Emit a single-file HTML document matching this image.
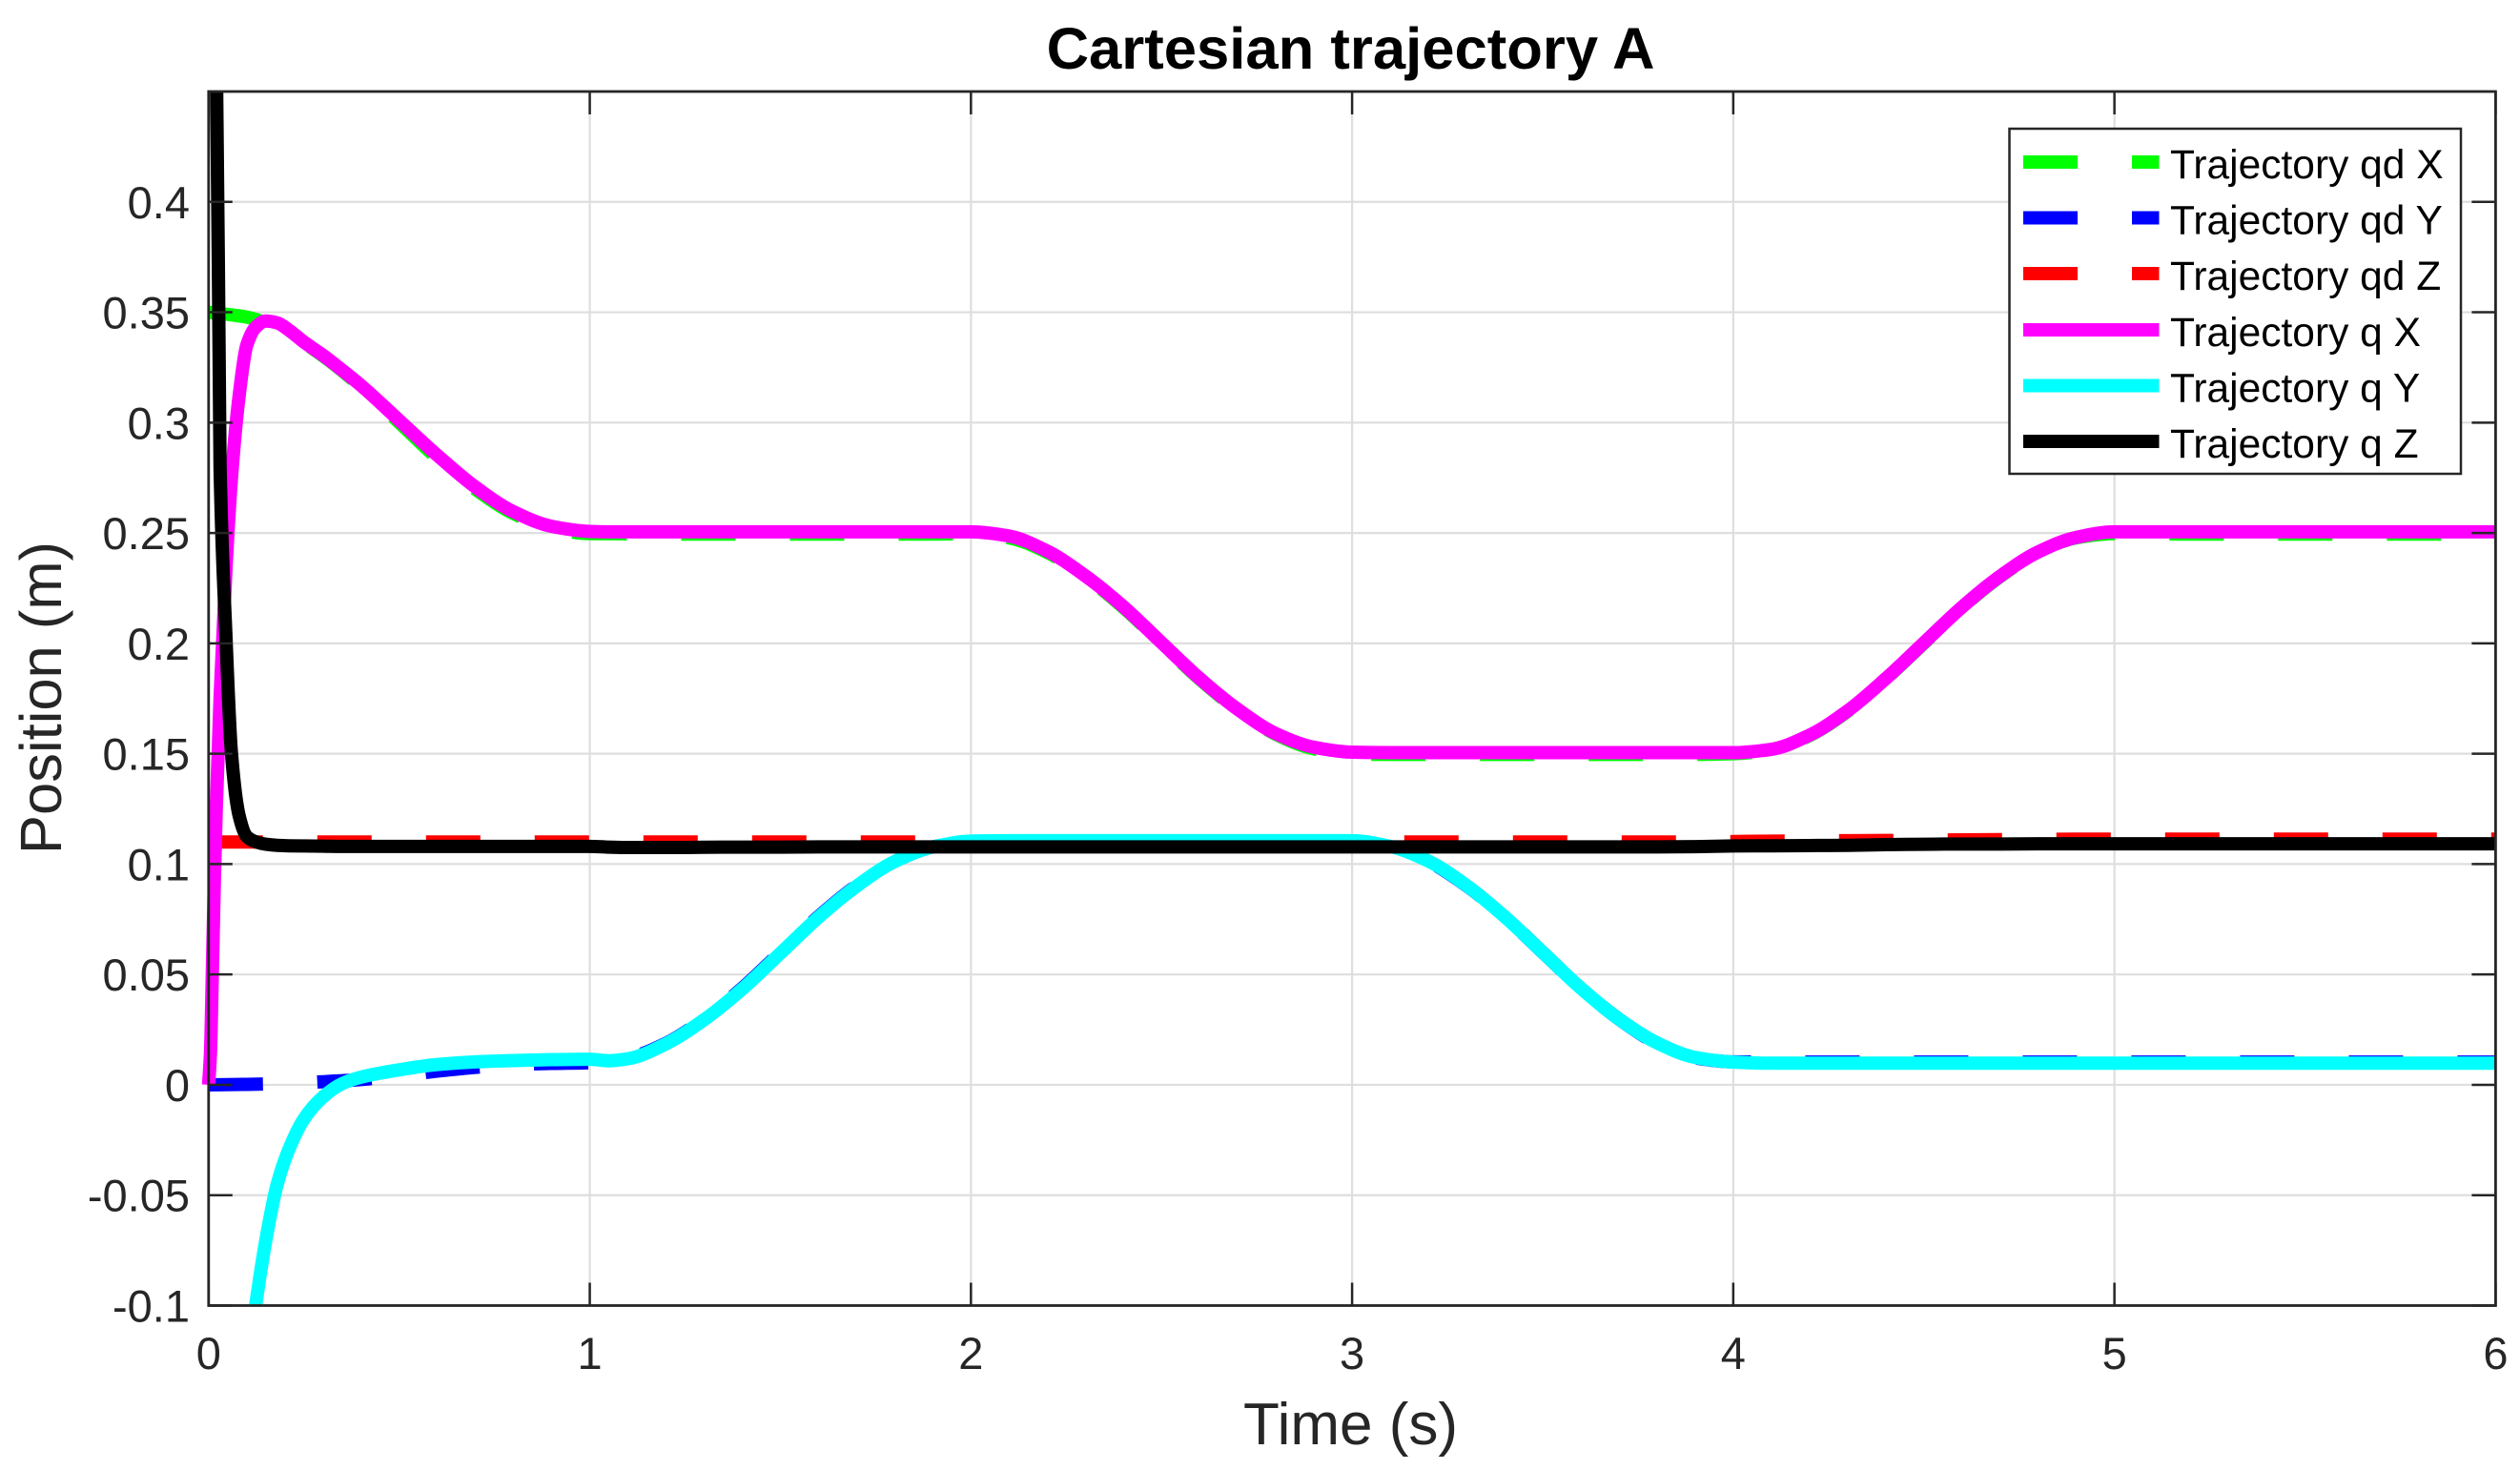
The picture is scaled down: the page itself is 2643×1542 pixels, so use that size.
<!DOCTYPE html>
<html lang="en">
<head>
<meta charset="utf-8">
<title>Cartesian trajectory A</title>
<style>
html,body{margin:0;padding:0;background:#fff;width:2643px;height:1542px;overflow:hidden;}
svg{display:block;position:absolute;left:0;top:0;overflow:hidden;}
text{font-family:"Liberation Sans",Arial,sans-serif;}
</style>
</head>
<body>
<svg id="chart" xmlns="http://www.w3.org/2000/svg" width="2643" height="1542" viewBox="0 0 2643 1542">
  <defs>
    <clipPath id="plot-clip"><rect x="205" y="96" width="2412.4" height="1273.5"/></clipPath>
  </defs>
  <rect x="0" y="0" width="2643" height="1542" fill="#fff"/>
  <g id="grid"></g>
  <g id="series" clip-path="url(#plot-clip)" fill="none" stroke-linejoin="round"></g>
  <g id="axes"></g>
  <text x="1416.5" y="72" font-size="61.6" font-weight="bold" text-anchor="middle" fill="#000">Cartesian trajectory A</text>
  <text x="1416.5" y="1515" font-size="62" text-anchor="middle" fill="#262626">Time (s)</text>
  <text transform="translate(64,732) rotate(-90)" font-size="61.5" text-anchor="middle" fill="#262626">Position (m)</text>
  <g>
    <rect x="2107.5" y="135" width="473.5" height="362" fill="#fff" stroke="#262626" stroke-width="2.5"/>
    <g>
      <line x1="2122" x2="2264.5" y1="170" y2="170" stroke="#00ff00" stroke-width="14" stroke-dasharray="57 57"/>
      <text x="2276" y="187" font-size="42.5" fill="#000">Trajectory qd X</text>
    </g>
    <g>
      <line x1="2122" x2="2264.5" y1="228.5" y2="228.5" stroke="#0000ff" stroke-width="14" stroke-dasharray="57 57"/>
      <text x="2276" y="245.5" font-size="42.5" fill="#000">Trajectory qd Y</text>
    </g>
    <g>
      <line x1="2122" x2="2264.5" y1="287" y2="287" stroke="#ff0000" stroke-width="14" stroke-dasharray="57 57"/>
      <text x="2276" y="304" font-size="42.5" fill="#000">Trajectory qd Z</text>
    </g>
    <g>
      <line x1="2122" x2="2264.5" y1="346" y2="346" stroke="#ff00ff" stroke-width="14"/>
      <text x="2276" y="363" font-size="42.5" fill="#000">Trajectory q X</text>
    </g>
    <g>
      <line x1="2122" x2="2264.5" y1="404.5" y2="404.5" stroke="#00ffff" stroke-width="14"/>
      <text x="2276" y="421.5" font-size="42.5" fill="#000">Trajectory q Y</text>
    </g>
    <g>
      <line x1="2122" x2="2264.5" y1="463" y2="463" stroke="#000" stroke-width="14"/>
      <text x="2276" y="480" font-size="42.5" fill="#000">Trajectory q Z</text>
    </g>
  </g>
</svg>
<script>
var xTicks = [0,1,2,3,4,5,6];
var xTickLabels = ["0","1","2","3","4","5","6"];
var yTicks = [-0.1,-0.05,0,0.05,0.1,0.15,0.2,0.25,0.3,0.35,0.4];
var yTickLabels = ["-0.1","-0.05","0","0.05","0.1","0.15","0.2","0.25","0.3","0.35","0.4"];
var xLimits = [0,6];
var yLimits = [-0.1,0.45];

var qdTime = [0,0.1,0.2,0.3,0.4,0.5,0.6,0.7,0.8,0.9,1,1.1,1.2,1.3,1.4,1.5,1.6,1.7,1.8,1.9,2,2.1,2.2,2.3,2.4,2.5,2.6,2.7,2.8,2.9,3,3.1,3.2,3.3,3.4,3.5,3.6,3.7,3.8,3.9,4,4.1,4.2,4.3,4.4,4.5,4.6,4.7,4.8,4.9,5,5.1,5.2,5.3,5.4,5.5,5.6,5.7,5.8,5.9,6];
var qdX = [0.35,0.3478,0.3412,0.3302,0.3162,0.3,0.2838,0.2698,0.2588,0.2522,0.2497,0.2496,0.2495,0.2495,0.2495,0.2495,0.2495,0.2495,0.2495,0.2495,0.2497,0.2478,0.2412,0.2302,0.2162,0.2,0.1838,0.1698,0.1588,0.1522,0.1498,0.1497,0.1497,0.1497,0.1497,0.1497,0.1497,0.1497,0.1497,0.1497,0.15,0.1518,0.1582,0.1692,0.1838,0.2,0.2162,0.2302,0.2412,0.2478,0.2497,0.2496,0.2495,0.2495,0.2495,0.2495,0.2495,0.2495,0.2495,0.2495,0.2495];
var qdY = [0,0.0002,0.0006,0.0014,0.0024,0.0042,0.0062,0.0079,0.0091,0.0097,0.01,0.0122,0.0188,0.0298,0.0438,0.06,0.0762,0.0902,0.1012,0.1078,0.11,0.1102,0.1102,0.1102,0.1102,0.1102,0.1102,0.1102,0.1102,0.1102,0.11,0.1078,0.1012,0.0902,0.0762,0.06,0.0438,0.0298,0.0188,0.0122,0.0104,0.0103,0.0103,0.0103,0.0103,0.0103,0.0103,0.0103,0.0103,0.0103,0.0103,0.0103,0.0103,0.0103,0.0103,0.0103,0.0103,0.0103,0.0103,0.0103,0.0103];
var qdZ = [0.11,0.11,0.11,0.11,0.11,0.11,0.11,0.11,0.11,0.11,0.11,0.11,0.11,0.11,0.11,0.11,0.11,0.11,0.11,0.11,0.11,0.11,0.11,0.11,0.11,0.11,0.11,0.11,0.11,0.11,0.11,0.11,0.11,0.11,0.11,0.11,0.11,0.11,0.11,0.11,0.1102,0.1104,0.1105,0.1106,0.1107,0.1108,0.111,0.1111,0.1112,0.1113,0.1113,0.1113,0.1113,0.1113,0.1113,0.1113,0.1113,0.1113,0.1113,0.1113,0.1113];

var qTime = [0,0.005,0.01,0.015,0.02,0.03,0.045,0.06,0.08,0.1,0.125,0.15,0.18,0.21,0.25,0.3,0.35,0.4,0.5,0.6,0.7,0.8,0.9,1,1.05,1.1,1.2,1.3,1.4,1.5,1.6,1.7,1.8,1.9,2,2.1,2.2,2.3,2.4,2.5,2.6,2.7,2.8,2.9,3,3.1,3.2,3.3,3.4,3.5,3.6,3.7,3.8,3.9,4,4.1,4.2,4.3,4.4,4.5,4.6,4.7,4.8,4.9,5,5.5,6];
var qX = [0,0.015,0.053,0.092,0.125,0.175,0.232,0.275,0.312,0.335,0.3435,0.346,0.3452,0.342,0.3365,0.3305,0.3238,0.3168,0.301,0.2852,0.2708,0.2596,0.253,0.2507,0.2505,0.2505,0.2505,0.2505,0.2505,0.2505,0.2505,0.2505,0.2505,0.2505,0.2505,0.2486,0.2418,0.2306,0.2166,0.2003,0.1841,0.1701,0.1591,0.1529,0.1507,0.1505,0.1505,0.1505,0.1505,0.1505,0.1505,0.1505,0.1505,0.1505,0.1505,0.152,0.1584,0.1694,0.184,0.2002,0.2164,0.2304,0.2414,0.248,0.2505,0.2505,0.2505];
var qY = [-0.17,-0.17,-0.17,-0.17,-0.17,-0.17,-0.17,-0.17,-0.17,-0.13,-0.098,-0.0705,-0.045,-0.0295,-0.0155,-0.0055,0.0005,0.0035,0.0068,0.0092,0.0104,0.011,0.0114,0.0116,0.0109,0.0118,0.0186,0.0295,0.0434,0.0596,0.0759,0.09,0.1012,0.1078,0.1104,0.1106,0.1106,0.1106,0.1106,0.1106,0.1106,0.1106,0.1106,0.1106,0.1106,0.108,0.1014,0.0903,0.0762,0.06,0.0438,0.0298,0.019,0.0124,0.0103,0.0098,0.0098,0.0098,0.0098,0.0098,0.0098,0.0098,0.0098,0.0098,0.0098,0.0098,0.0098];
var qZ = [0.47,0.47,0.47,0.47,0.47,0.28,0.205,0.15,0.122,0.1125,0.11,0.109,0.1085,0.1083,0.1082,0.1081,0.108,0.108,0.108,0.108,0.108,0.108,0.108,0.108,0.1077,0.1075,0.1075,0.1076,0.1077,0.1077,0.1078,0.1078,0.1078,0.1078,0.1078,0.1078,0.1078,0.1078,0.1078,0.1078,0.1078,0.1078,0.1078,0.1078,0.1078,0.1078,0.1078,0.1078,0.1078,0.1078,0.1078,0.1078,0.1078,0.1079,0.1082,0.1083,0.1084,0.1085,0.1088,0.109,0.1091,0.1091,0.1092,0.1092,0.1092,0.1092,0.1092];

var NS = "http://www.w3.org/2000/svg";
var plotLeft = 218.8, plotRight = 2617.4, plotTop = 96, plotBottom = 1369.5;

function xScale(v){ return plotLeft + (v - xLimits[0]) / (xLimits[1] - xLimits[0]) * (plotRight - plotLeft); }
function yScale(v){ return plotBottom - (v - yLimits[0]) / (yLimits[1] - yLimits[0]) * (plotBottom - plotTop); }
function node(tag, parent, attrs){
  var el = document.createElementNS(NS, tag);
  for (var k in attrs) el.setAttribute(k, attrs[k]);
  parent.appendChild(el);
  return el;
}
/* Smooth path through the data points using monotone cubic tangents. */
function pathData(ts, vs){
  var n = ts.length, px = [], py = [], slope = [], tan = [], i;
  for (i = 0; i < n; i++){ px.push(xScale(ts[i])); py.push(yScale(vs[i])); }
  for (i = 0; i < n - 1; i++){ slope.push((py[i+1] - py[i]) / (px[i+1] - px[i])); }
  tan[0] = slope[0];
  tan[n-1] = slope[n-2];
  for (i = 1; i < n - 1; i++){
    if (slope[i-1] * slope[i] <= 0) { tan[i] = 0; }
    else {
      var h0 = px[i] - px[i-1], h1 = px[i+1] - px[i];
      var w0 = 2 * h1 + h0, w1 = h1 + 2 * h0;
      tan[i] = (w0 + w1) / (w0 / slope[i-1] + w1 / slope[i]);
    }
  }
  var d = "M" + px[0].toFixed(2) + " " + py[0].toFixed(2);
  for (i = 0; i < n - 1; i++){
    var h = (px[i+1] - px[i]) / 3;
    d += "C" + (px[i] + h).toFixed(2) + " " + (py[i] + tan[i] * h).toFixed(2) + " " +
         (px[i+1] - h).toFixed(2) + " " + (py[i+1] - tan[i+1] * h).toFixed(2) + " " +
         px[i+1].toFixed(2) + " " + py[i+1].toFixed(2);
  }
  return d;
}

var grid = document.getElementById("grid");
var axes = document.getElementById("axes");
var series = document.getElementById("series");

xTicks.forEach(function(t, i){
  var x = xScale(t);
  if (t !== xLimits[0] && t !== xLimits[1]) {
    var g = node("line", grid, {x1:x, x2:x, y1:plotTop, y2:plotBottom, stroke:"#dedede", "stroke-width":2.2});
    
    
  }
  var b = node("line", axes, {x1:x, x2:x, y1:plotBottom, y2:plotBottom-24, stroke:"#262626", "stroke-width":2.5});
  
  
  var u = node("line", axes, {x1:x, x2:x, y1:plotTop, y2:plotTop+24, stroke:"#262626", "stroke-width":2.5});
  
  
  var l = node("text", axes, {x:x, y:1436, "font-size":47, "text-anchor":"middle", fill:"#262626"});
  
  
  l.textContent = xTickLabels[i];
});

yTicks.forEach(function(v, i){
  var y = yScale(v);
  if (v !== yLimits[0]) {
    var g = node("line", grid, {x1:plotLeft, x2:plotRight, y1:y, y2:y, stroke:"#dedede", "stroke-width":2.2});
    
    
  }
  var a = node("line", axes, {x1:plotLeft, x2:plotLeft+25, y1:y, y2:y, stroke:"#262626", "stroke-width":2.5});
  
  
  var c = node("line", axes, {x1:plotRight, x2:plotRight-25, y1:y, y2:y, stroke:"#262626", "stroke-width":2.5});
  
  
  var l = node("text", axes, {x:199, y:y+17, "font-size":47, "text-anchor":"end", fill:"#262626"});
  
  
  l.textContent = yTickLabels[i];
});

var frame = node("rect", axes, {x:plotLeft, y:plotTop, width:plotRight-plotLeft, height:plotBottom-plotTop, fill:"none", stroke:"#262626", "stroke-width":2.8});



var lineQdX = node("path", series, {d:pathData(qdTime, qdX), stroke:"#00ff00", "stroke-width":14, "stroke-dasharray":"57 57"});


var lineQdY = node("path", series, {d:pathData(qdTime, qdY), stroke:"#0000ff", "stroke-width":14, "stroke-dasharray":"57 57"});


var lineQdZ = node("path", series, {d:pathData(qdTime, qdZ), stroke:"#ff0000", "stroke-width":14, "stroke-dasharray":"57 57"});


var lineQX = node("path", series, {d:pathData(qTime, qX), stroke:"#ff00ff", "stroke-width":14});


var lineQY = node("path", series, {d:pathData(qTime, qY), stroke:"#00ffff", "stroke-width":14});


var lineQZ = node("path", series, {d:pathData(qTime, qZ), stroke:"#000000", "stroke-width":14});


</script>
</body>
</html>
